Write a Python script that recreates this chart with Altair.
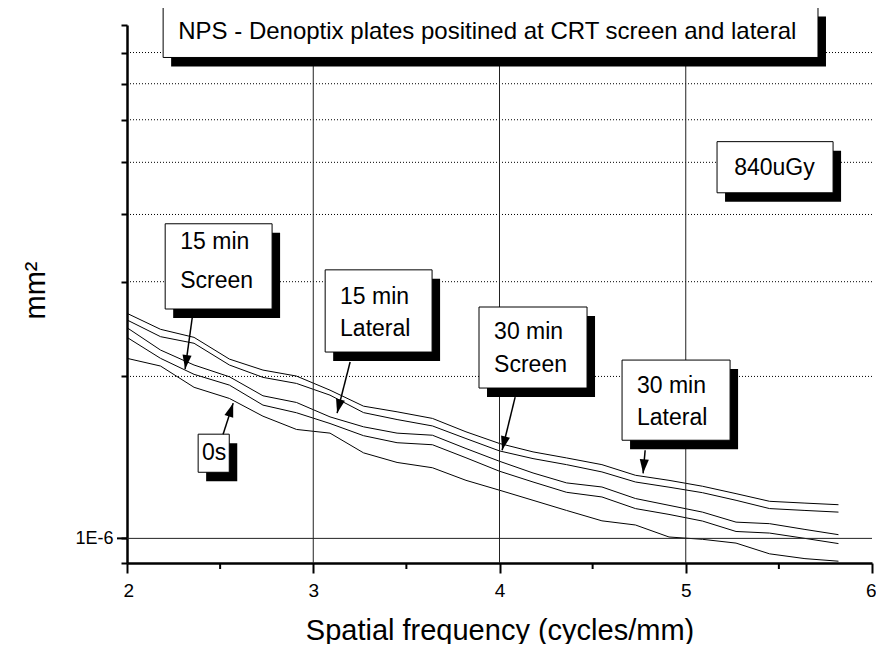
import altair as alt
import pandas as pd

FONT = "Liberation Sans"

# ---------------- data ----------------
freq = [2.0, 2.18, 2.36, 2.55, 2.73, 2.91, 3.09, 3.27, 3.45, 3.64, 3.82,
        4.0, 4.18, 4.36, 4.55, 4.73, 4.91, 5.09, 5.27, 5.45, 5.64, 5.82]

series_names = ["30 min Lateral", "30 min Screen", "15 min Lateral", "15 min Screen", "0s"]

nps_30_lateral = [2.620e-6, 2.447e-6, 2.364e-6, 2.154e-6, 2.055e-6, 2.003e-6, 1.886e-6, 1.761e-6,
                  1.719e-6, 1.671e-6, 1.578e-6, 1.501e-6, 1.448e-6, 1.411e-6, 1.371e-6, 1.310e-6,
                  1.282e-6, 1.250e-6, 1.211e-6, 1.172e-6, 1.163e-6, 1.155e-6]
nps_30_screen = [2.547e-6, 2.371e-6, 2.305e-6, 2.100e-6, 1.992e-6, 1.941e-6, 1.846e-6, 1.713e-6,
                 1.663e-6, 1.618e-6, 1.533e-6, 1.454e-6, 1.407e-6, 1.371e-6, 1.329e-6, 1.273e-6,
                 1.245e-6, 1.216e-6, 1.177e-6, 1.136e-6, 1.127e-6, 1.119e-6]
nps_15_lateral = [2.464e-6, 2.239e-6, 2.100e-6, 1.997e-6, 1.841e-6, 1.789e-6, 1.682e-6, 1.612e-6,
                  1.569e-6, 1.555e-6, 1.469e-6, 1.391e-6, 1.323e-6, 1.268e-6, 1.246e-6, 1.186e-6,
                  1.152e-6, 1.119e-6, 1.072e-6, 1.065e-6, 1.039e-6, 1.016e-6]
nps_15_screen = [2.364e-6, 2.161e-6, 2.018e-6, 1.927e-6, 1.769e-6, 1.712e-6, 1.635e-6, 1.552e-6,
                 1.506e-6, 1.493e-6, 1.412e-6, 1.333e-6, 1.273e-6, 1.218e-6, 1.194e-6, 1.136e-6,
                 1.108e-6, 1.077e-6, 1.030e-6, 1.023e-6, 1.000e-6, 0.978e-6]
nps_0s = [2.161e-6, 2.091e-6, 1.909e-6, 1.820e-6, 1.687e-6, 1.594e-6, 1.569e-6, 1.442e-6,
          1.384e-6, 1.353e-6, 1.282e-6, 1.229e-6, 1.177e-6, 1.127e-6, 1.078e-6, 1.059e-6,
          1.006e-6, 0.996e-6, 0.980e-6, 0.936e-6, 0.917e-6, 0.907e-6]

x_major_ticks = [2, 3, 4, 5, 6]
x_minor_ticks = [2.5, 3.5, 4.5, 5.5]
y_ticks = [9e-7, 1e-6, 2e-6, 3e-6, 4e-6, 5e-6, 6e-6, 7e-6, 8e-6, 9e-6]
y_major_ticks = [1e-6]
x_grid = [3, 4, 5]
y_grid_dotted = [2e-6, 3e-6, 4e-6, 5e-6, 6e-6, 7e-6, 8e-6]
y_grid_solid = [1e-6]

# annotation boxes (data coordinates)
box_x1 = [2.194, 5.168, 2.205, 3.064, 3.890, 4.658, 2.382]
box_x2 = [5.710, 5.791, 2.779, 3.638, 4.470, 5.238, 2.549]
box_ytop = [9.70e-6, 5.463e-6, 3.844e-6, 3.156e-6, 2.692e-6, 2.145e-6, 1.562e-6]
box_ybot = [7.832e-6, 4.389e-6, 2.669e-6, 2.220e-6, 1.903e-6, 1.522e-6, 1.327e-6]

# annotation text lines (data coordinates of each line's left/middle)
text_labels = ["NPS - Denoptix plates positined at CRT screen and lateral", "840uGy",
               "15 min", "Screen", "15 min", "Lateral", "30 min", "Screen",
               "30 min", "Lateral", "0s"]
text_x = [2.275, 5.260, 2.286, 2.286, 3.144, 3.144, 3.971, 3.971, 4.738, 4.738, 2.403]
text_y = [8.717e-6, 4.887e-6, 3.558e-6, 3.010e-6, 2.811e-6, 2.450e-6, 2.419e-6, 2.100e-6,
          1.919e-6, 1.673e-6, 1.440e-6]
text_size = [24, 23, 23, 23, 23, 23, 23, 23, 23, 23, 23]

# arrows: start -> tip (data coordinates), head angle in degrees
arrow_xs = [2.350, 3.198, 4.084, 4.782, 2.516]
arrow_ys = [2.568e-6, 2.127e-6, 1.830e-6, 1.458e-6, 1.562e-6]
arrow_xt = [2.312, 3.128, 4.014, 4.771, 2.570]
arrow_yt = [2.064e-6, 1.709e-6, 1.458e-6, 1.321e-6, 1.784e-6]
arrow_angle = [188, 194, 194, 185, 18]

# ---------------- tables ----------------
rows = []
for name, vals in zip(series_names, [nps_30_lateral, nps_30_screen, nps_15_lateral, nps_15_screen, nps_0s]):
    for f, v in zip(freq, vals):
        rows.append({"series": name, "freq": f, "nps": v})
lines_df = pd.DataFrame(rows)

boxes_df = pd.DataFrame({"x1": box_x1, "x2": box_x2, "y1": box_ytop, "y2": box_ybot})
texts_df = pd.DataFrame({"label": text_labels, "tx": text_x, "ty": text_y, "fs": text_size})
arrows_df = pd.DataFrame({"xs": arrow_xs, "ys": arrow_ys, "xt": arrow_xt, "yt": arrow_yt,
                          "ang": arrow_angle})

x_scale = alt.Scale(domain=[2, 6], nice=False, zero=False)
y_scale = alt.Scale(type="log", domain=[9e-7, 9e-6], nice=False)

x_axis = alt.Axis(
    values=x_major_ticks, format="d",
    tickSize=10, tickWidth=2, tickColor="black", domainColor="black", domainWidth=2.5,
    labelFont=FONT, labelFontSize=19, labelColor="black", labelPadding=8,
    labelFlush=True, labelFlushOffset=4, labelOverlap=False, grid=False,
    title="Spatial frequency (cycles/mm)", titleFont=FONT, titleFontSize=29,
    titleFontWeight="normal", titleColor="black", titleY=67, titleBaseline="middle",
)
y_axis = alt.Axis(
    values=y_ticks,
    labelExpr="abs(datum.value - 1e-6) < 1e-12 ? '1E-6' : ''",
    tickSize=6, tickWidth=2, tickColor="black", domainColor="black", domainWidth=2.5,
    labelFont=FONT, labelFontSize=18, labelColor="black", labelPadding=8,
    labelFlush=False, labelOverlap=False, grid=False,
    title="mm²", titleFont=FONT, titleFontSize=29, titleFontWeight="normal",
    titleColor="black", titleX=-92, titleY=265, titleBaseline="middle", titleAngle=270,
)


def X(field):
    return alt.X(field, type="quantitative", scale=x_scale, axis=x_axis)


def Y(field):
    return alt.Y(field, type="quantitative", scale=y_scale, axis=y_axis)


lines = alt.Chart(lines_df).mark_line(color="black", strokeWidth=1).encode(
    x=X("freq"), y=Y("nps"), detail="series:N")

vgrid = alt.Chart(pd.DataFrame({"freq": x_grid})).mark_rule(color="#222", strokeWidth=1).encode(
    x=X("freq"))
hgrid_dot = alt.Chart(pd.DataFrame({"nps": y_grid_dotted})).mark_rule(
    color="black", strokeWidth=1, strokeDash=[1, 2]).encode(y=Y("nps"))
hgrid_solid = alt.Chart(pd.DataFrame({"nps": y_grid_solid})).mark_rule(
    color="#222", strokeWidth=1).encode(y=Y("nps"))

# minor x ticks and the long y tick at 1E-6
x_minor = alt.Chart(pd.DataFrame({"freq": x_minor_ticks})).mark_rule(color="black", strokeWidth=2).encode(
    x=X("freq"), y=alt.value(538), y2=alt.value(544))
y_major = alt.Chart(pd.DataFrame({"nps": y_major_ticks})).mark_rule(color="black", strokeWidth=2).encode(
    y=Y("nps"), x=alt.value(-10), x2=alt.value(0))

shadows = alt.Chart(boxes_df).mark_rect(color="black", xOffset=8, x2Offset=8, yOffset=9, y2Offset=9).encode(
    x=X("x1"), x2="x2:Q", y=Y("y1"), y2="y2:Q")
boxes = alt.Chart(boxes_df).mark_rect(fill="white", stroke="black", strokeWidth=1).encode(
    x=X("x1"), x2="x2:Q", y=Y("y1"), y2="y2:Q")
texts = alt.Chart(texts_df).mark_text(
    align="left", baseline="middle", font=FONT, color="black").encode(
    x=X("tx"), y=Y("ty"),
    size=alt.Size("fs:Q", scale=None, legend=None),
    text="label:N")

arrow_shafts = alt.Chart(arrows_df).mark_rule(color="black", strokeWidth=1.5).encode(
    x=X("xs"), x2="xt:Q", y=Y("ys"), y2="yt:Q")
arrow_heads = alt.Chart(arrows_df).mark_point(
    shape="M0,0L0.65,2L-0.65,2Z", filled=True, color="black", opacity=1, size=196).encode(
    x=X("xt"), y=Y("yt"), angle=alt.Angle("ang:Q", scale=None))

chart = alt.layer(
    lines, hgrid_dot, hgrid_solid, vgrid, x_minor, y_major,
    shadows, boxes, texts, arrow_shafts, arrow_heads
).properties(
    width=745, height=538,
    padding={"left": 119, "top": 17, "right": 4, "bottom": 81},
    autosize=alt.AutoSizeParams(type="none"),
    background="white",
).configure_view(stroke=None)

chart.save("out.html", embed_options={"renderer": "svg", "actions": False})
